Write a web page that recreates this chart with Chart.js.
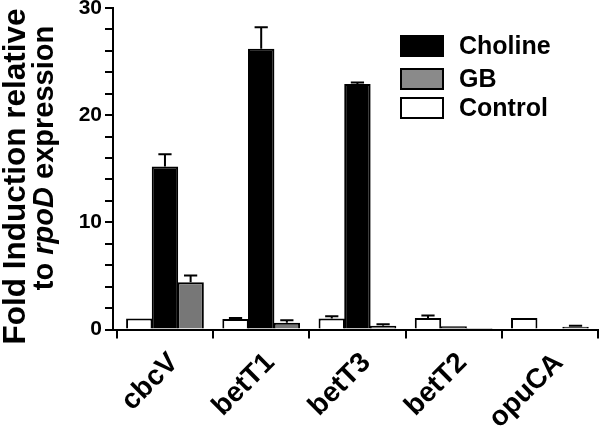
<!DOCTYPE html>
<html>
<head>
<meta charset="utf-8">
<script src="https://cdn.jsdelivr.net/npm/chart.js@4/dist/chart.umd.min.js"></script>
<style>
html,body{margin:0;padding:0;background:#fff;}
#wrap{width:600px;height:430px;position:relative;}
</style>
</head>
<body>
<div id="wrap"><canvas id="c" width="600" height="430"></canvas></div>
<script>
const categories = ['cbcV', 'betT1', 'betT3', 'betT2', 'opuCA'];
const controlValues = [1.03, 0.98, 1.03, 1.08, 1.08];
const controlSd = [0.0, 0.1, 0.2, 0.22, 0.0];
const cholineValues = [15.2, 26.2, 22.9, 0.3, 0.0];
const cholineSd = [1.15, 2.0, 0.15, 0.0, 0.0];
const gbValues = [4.4, 0.62, 0.35, 0.15, 0.25];
const gbSd = [0.65, 0.25, 0.15, 0.0, 0.1];
const yTicks = [0, 10, 20, 30];
const legendOrder = ['Choline', 'GB', 'Control'];

const FONT = '"Liberation Sans", Arial, sans-serif';

function pts(vals){ return vals.map((v,i)=>({x:i, y:v})); }

const datasets = [
  {label:'Control', data:pts(controlValues), sd:controlSd, backgroundColor:'#ffffff'},
  {label:'Choline', data:pts(cholineValues), sd:cholineSd, backgroundColor:'#000000'},
  {label:'GB', data:pts(gbValues), sd:gbSd, backgroundColor:'#777777'}
].map(d=>Object.assign(d,{borderColor:'#000', borderWidth:2, borderSkipped:'start', barPercentage:1.03, categoryPercentage:0.8}));

const errorBars = {
  id:'errorBars',
  afterDatasetsDraw(chart){
    const ctx = chart.ctx, ys = chart.scales.y;
    ctx.save();
    ctx.strokeStyle = '#000'; ctx.lineWidth = 2;
    chart.data.datasets.forEach((ds, di)=>{
      const meta = chart.getDatasetMeta(di);
      meta.data.forEach((el, j)=>{
        const sd = ds.sd[j];
        if (!sd) return;
        const v = ds.data[j].y;
        const yTop = ys.getPixelForValue(v + sd);
        const half = el.width / 4;
        ctx.beginPath();
        ctx.moveTo(el.x, el.y); ctx.lineTo(el.x, yTop);
        ctx.moveTo(el.x - half, yTop); ctx.lineTo(el.x + half, yTop);
        ctx.stroke();
      });
    });
    ctx.restore();
  }
};

const extras = {
  id:'extras',
  afterDraw(chart){
    const ctx = chart.ctx;
    ctx.save();
    const colors = {Choline:'#000000', GB:'#8a8a8a', Control:'#ffffff'};
    const rowsY = [46, 79, 108];
    legendOrder.forEach((name, i)=>{
      const cy = rowsY[i];
      ctx.fillStyle = colors[name];
      ctx.fillRect(401, cy-10, 42, 20);
      ctx.strokeStyle = '#000'; ctx.lineWidth = 2;
      ctx.strokeRect(401, cy-10, 42, 20);
      ctx.fillStyle = '#000';
      ctx.font = 'bold 25px ' + FONT;
      ctx.textAlign = 'left'; ctx.textBaseline = 'middle';
      ctx.fillText(name, 459, cy+1);
    });
    ctx.fillStyle = '#000';
    ctx.save();
    ctx.translate(25, 176.5);
    ctx.rotate(-Math.PI/2);
    ctx.font = 'bold 31.5px ' + FONT;
    ctx.textAlign = 'center'; ctx.textBaseline = 'alphabetic';
    ctx.fillText('Fold Induction relative', 0, 0);
    ctx.restore();
    ctx.save();
    ctx.translate(53, 158);
    ctx.rotate(-Math.PI/2);
    const parts = [['to ', 'bold 29px '], ['rpoD', 'italic bold 29px '], [' expression', 'bold 29px ']];
    let total = 0;
    parts.forEach(p=>{ ctx.font = p[1] + FONT; total += ctx.measureText(p[0]).width; });
    let x = -total/2;
    ctx.textAlign = 'left'; ctx.textBaseline = 'alphabetic';
    parts.forEach(p=>{ ctx.font = p[1] + FONT; ctx.fillText(p[0], x, 0); x += ctx.measureText(p[0]).width; });
    ctx.restore();
    ctx.restore();
  }
};

new Chart(document.getElementById('c'), {
  type:'bar',
  data:{datasets},
  options:{
    responsive:false,
    animation:false,
    devicePixelRatio:1,
    layout:{padding:{left:0, right:2, top:8, bottom:0}},
    plugins:{legend:{display:false}, tooltip:{enabled:false}},
    scales:{
      x:{
        type:'linear', min:-0.54, max:4.5,
        offset:false,
        afterBuildTicks(s){ s.ticks = categories.map((c,i)=>({value:i})); },
        afterFit(s){ s.height = 100.5; s.paddingLeft = 0; s.paddingRight = 0; },
        ticks:{
          autoSkip:false, includeBounds:false, maxRotation:45, minRotation:45,
          color:'#000', font:{family:FONT, size:28, weight:'bold'}, padding:8, labelOffset:9,
          callback:(v)=>categories[v] ?? ''
        },
        grid:{drawOnChartArea:false, drawTicks:true, tickLength:9, color:'#000', lineWidth:2},
        border:{display:true, color:'#000', width:2}
      },
      y:{
        min:0, max:30,
        afterFit(s){ s.width = 113; s.paddingTop = 0; s.paddingBottom = 0; },
        ticks:{
          stepSize:2, autoSkip:false, color:'#000', padding:3,
          font:{family:FONT, size:21, weight:'bold'},
          callback:(v)=>yTicks.includes(v) ? String(v) : ''
        },
        grid:{drawOnChartArea:false, drawTicks:true, tickLength:8, color:'#000', lineWidth:2},
        border:{display:true, color:'#000', width:2}
      }
    }
  },
  plugins:[errorBars, extras]
});
</script>
</body>
</html>
